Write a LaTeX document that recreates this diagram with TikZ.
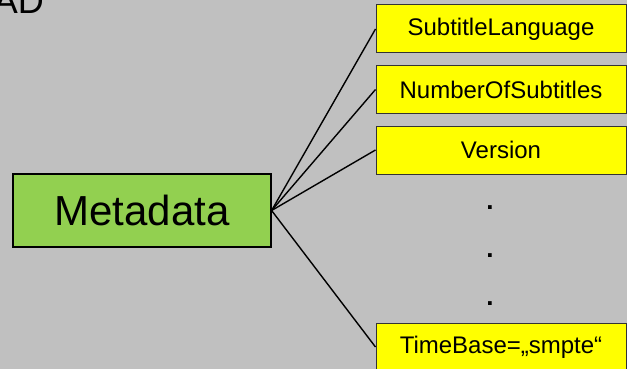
\documentclass[tikz,border=0pt]{standalone}
\usepackage{fontspec}
\setmainfont{Liberation Sans}
\usepackage{tikz}
\usetikzlibrary{positioning}
\definecolor{slidegray}{RGB}{192,192,192}
\definecolor{mdgreen}{RGB}{146,208,80}
\definecolor{mdyellow}{RGB}{255,255,0}
\tikzset{
    fieldbox/.style={rectangle, draw=black!80, fill=mdyellow, line width=1pt, minimum width=250pt, minimum height=48pt, inner sep=0pt, font=\fontsize{24}{28}\selectfont},
    link/.style={line width=1.4pt, color=black},
    gapdot/.style={inner sep=0pt, font=\fontsize{26}{30}\selectfont\bfseries}
}

\begin{document}
\begin{tikzpicture}[x=1pt, y=-1pt]
    \useasboundingbox (0,0) rectangle (627,369);
    \clip (0,0) rectangle (627,369);
    \fill[slidegray] (0,0) rectangle (627,369);

    % slide title, cut off by the frame
    \node[anchor=base east, inner sep=0pt, font=\fontsize{36}{40}\selectfont] (title) at (44,14) {AD};

    \node[rectangle, draw=black, fill=mdgreen, line width=1.2pt, minimum width=258pt, minimum height=73pt, inner sep=0pt, font=\fontsize{42}{48}\selectfont] (metadata) at (142,210.5) {Metadata};

    \node[fieldbox] (lang) at (501,29) {SubtitleLanguage};
    \node[fieldbox] (count) at (501,89.5) {NumberOfSubtitles};
    \node[fieldbox] (version) at (501,150) {Version};
    \node[fieldbox] (timebase) at (501,347) {TimeBase=„smpte“};

    \node[gapdot] (dotA) at (490,208) {.};
    \node[gapdot] (dotB) at (490,256) {.};
    \node[gapdot] (dotC) at (490,304) {.};

    \draw[link] (metadata.east) -- (lang.west);
    \draw[link] (metadata.east) -- (count.west);
    \draw[link] (metadata.east) -- (version.west);
    \draw[link] (metadata.east) -- (timebase.west);
\end{tikzpicture}
\end{document}
